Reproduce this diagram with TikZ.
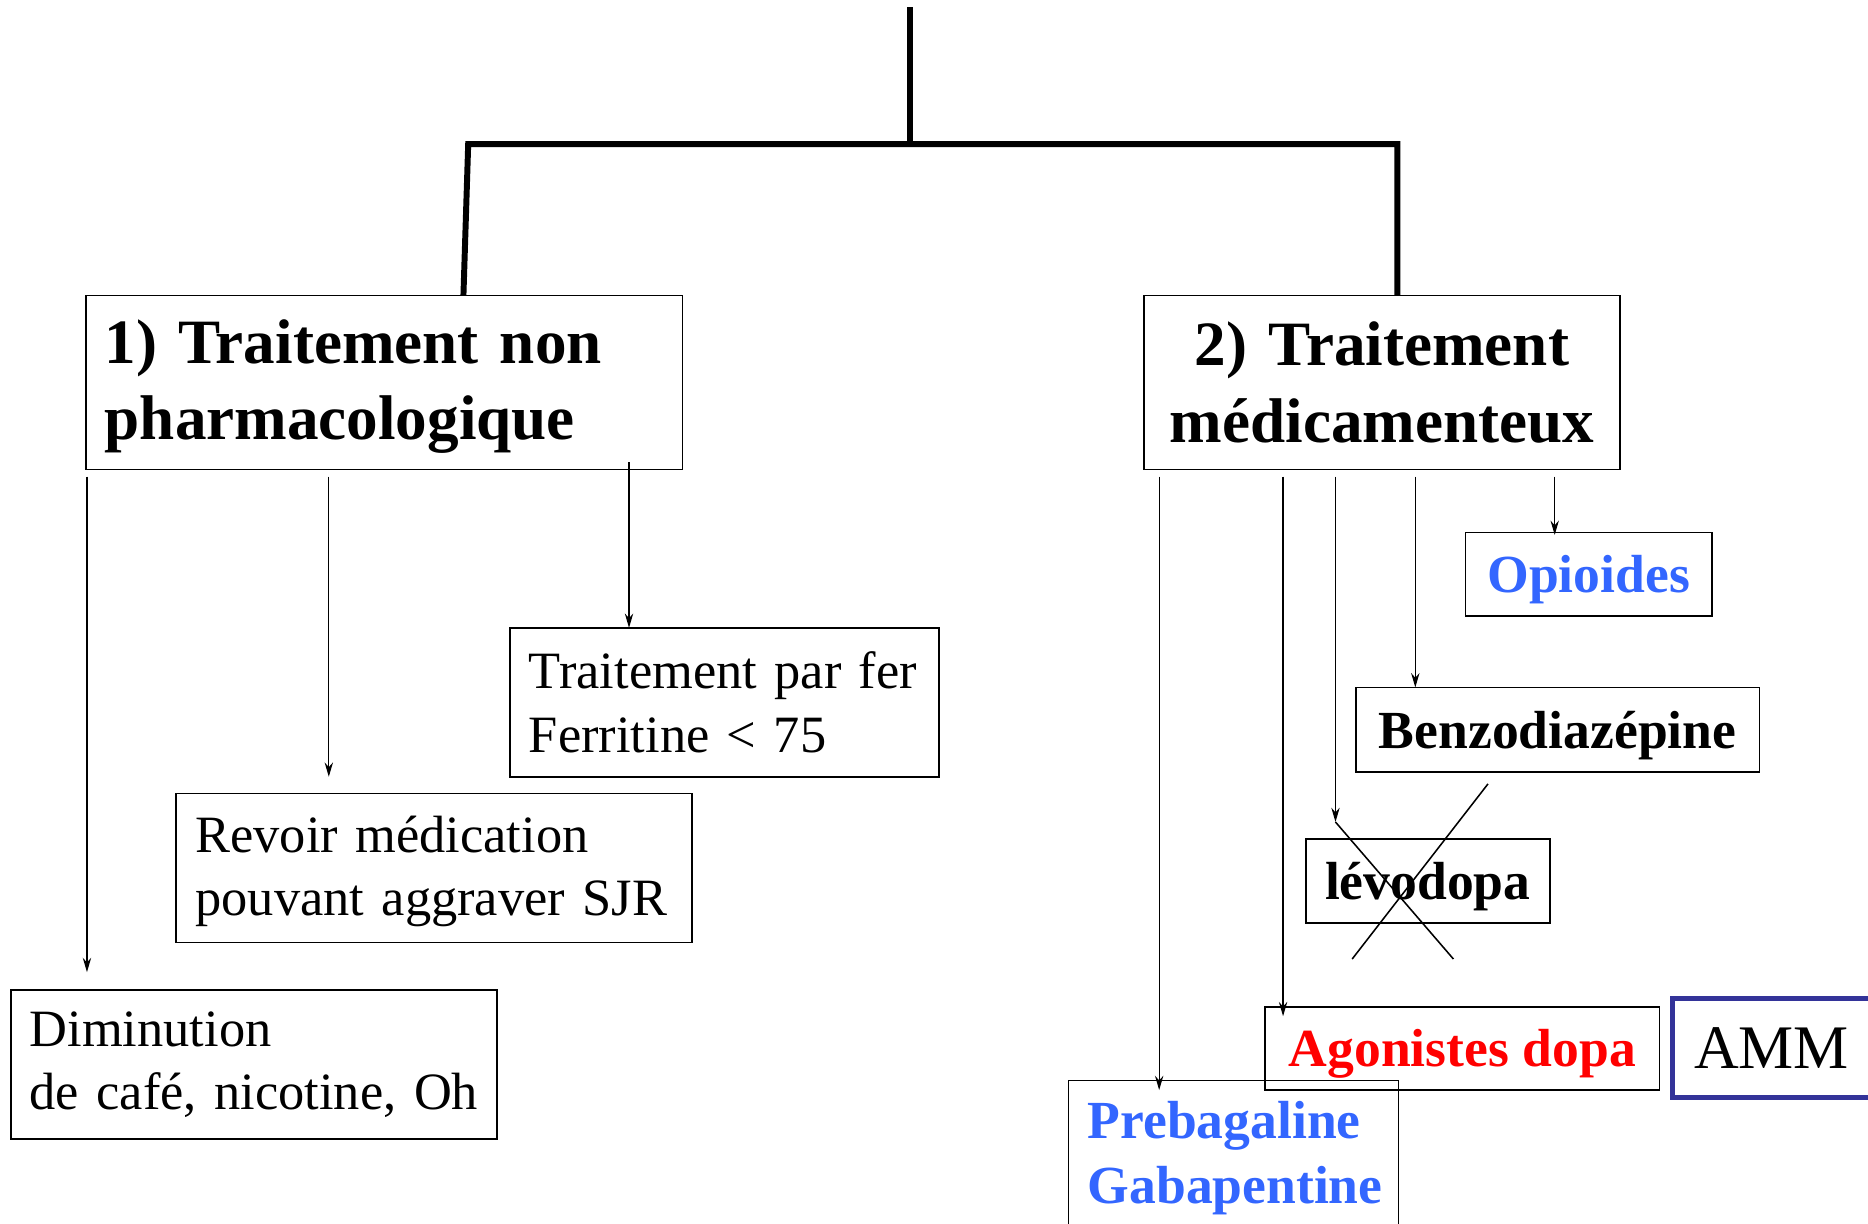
\documentclass[tikz,border=0pt]{standalone}
\usepackage{fontspec}
\setmainfont{Liberation Serif}
\usetikzlibrary{calc,arrows.meta}
\definecolor{bluetxt}{RGB}{51,102,255}
\definecolor{navyb}{RGB}{51,51,153}
\definecolor{redtxt}{RGB}{255,0,0}
\begin{document}
\begin{tikzpicture}[x=1pt,y=-1pt,
  box/.style={draw, line width=1.4pt, inner xsep=16pt, inner ysep=0pt, outer sep=0pt, anchor=north west},
  one/.style={text depth=0pt},
  arr/.style={-{Stealth[length=12pt,width=7pt]}, line width=1.1pt},
  tree/.style={line width=5pt, line join=miter},
  big/.style={font=\fontsize{53}{64}\selectfont\bfseries},
  reg/.style={font=\fontsize{44}{53}\selectfont},
  bld/.style={font=\fontsize{45}{54}\selectfont\bfseries}]
\useasboundingbox (0,0) rectangle (1568,1027);

% left branch
\node[box, big, minimum width=501pt, minimum height=146pt, text width=469pt, align=left] (n1) at (72,248) {\mbox{\rule{0pt}{44pt}1) Traitement non}\\\mbox{pharmacologique}};
\node[box, reg, minimum width=360pt, minimum height=125pt, text width=328pt, align=left] (fer) at (428,527) {\mbox{Traitement par fer}\\\mbox{Ferritine < 75}};
\node[box, reg, minimum width=433pt, minimum height=125pt, text width=401pt, align=left] (revoir) at (148,666) {\mbox{\rule{0pt}{37pt}Revoir médication}\\\mbox{pouvant aggraver SJR}};
\node[box, reg, minimum width=408pt, minimum height=125pt, text width=376pt, align=left] (dimin) at (9,831) {\mbox{Diminution}\\\mbox{de café, nicotine, Oh}};

% right branch
\node[box, big, minimum width=400pt, minimum height=146pt, text width=368pt, align=center] (n2) at (960,248) {\mbox{2) Traitement}\\\mbox{médicamenteux}};
\node[box, one, bld, text=bluetxt, minimum width=207pt, minimum height=70pt] (opio) at (1230,447) {Opioides};
\node[box, one, bld, minimum width=339pt, minimum height=71pt] (benzo) at (1138,577) {Benzodiazépine};
\node[box, one, bld, minimum width=205pt, minimum height=71pt] (levo) at (1096,704) {lévodopa};
\node[box, one, bld, text=redtxt, minimum width=331pt, minimum height=70pt] (agon) at (1062,845) {Agonistes dopa};
\node[box, one, draw=navyb, line width=4pt, font=\fontsize{52}{60}\selectfont, inner xsep=18pt, text width=144pt, align=left, minimum height=83pt] (amm) at (1404,838) {AMM};
\node[box, bld, text=bluetxt, minimum width=277pt, minimum height=130pt, text width=245pt, align=left] (preba) at (897,907) {\mbox{Prebagaline}\\\mbox{Gabapentine}};

% tree
\coordinate (top) at (764,6);
\coordinate (hub) at (764,121);
\draw[tree] (top) -- (hub);
\draw[tree] ($(n1.north west)+(317,0)$) -- ($(n1.north west)+(321,-127)$) -- ($(n2.north west)+(213,-127)$) -- ($(n2.north west)+(213,0)$);

% arrows left
\draw[arr] ($(n1.south west)+(1,6)$) -- ($(dimin.north west)+(64,-15)$);
\draw[arr] ($(n1.south west)+(204,6)$) -- ($(revoir.north west)+(128,-14)$);
\draw[arr] ($(n1.south west)+(456,-6)$) -- ($(fer.north west)+(100,0)$);

% arrows right
\draw[arr] ($(n2.south west)+(13,6)$) -- ($(preba.north west)+(76,8)$);
\draw[arr] ($(n2.south west)+(117,6)$) -- ($(agon.north west)+(15,8)$);
\coordinate (levotip) at ($(levo.north west)+(25,-14)$);
\draw[arr] ($(n2.south west)+(161,6)$) -- (levotip);
\draw[arr] ($(n2.south west)+(228,6)$) -- ($(benzo.north west)+(50,0)$);
\draw[arr] ($(n2.south west)+(345,6)$) -- ($(opio.north west)+(75,2)$);

% cross over levodopa
\draw[line width=1.3pt] (levotip) -- ($(levo.north west)+(124,101)$);
\draw[line width=1.3pt] ($(levo.north west)+(153,-46)$) -- ($(levo.north west)+(39,101)$);
\end{tikzpicture}
\end{document}
